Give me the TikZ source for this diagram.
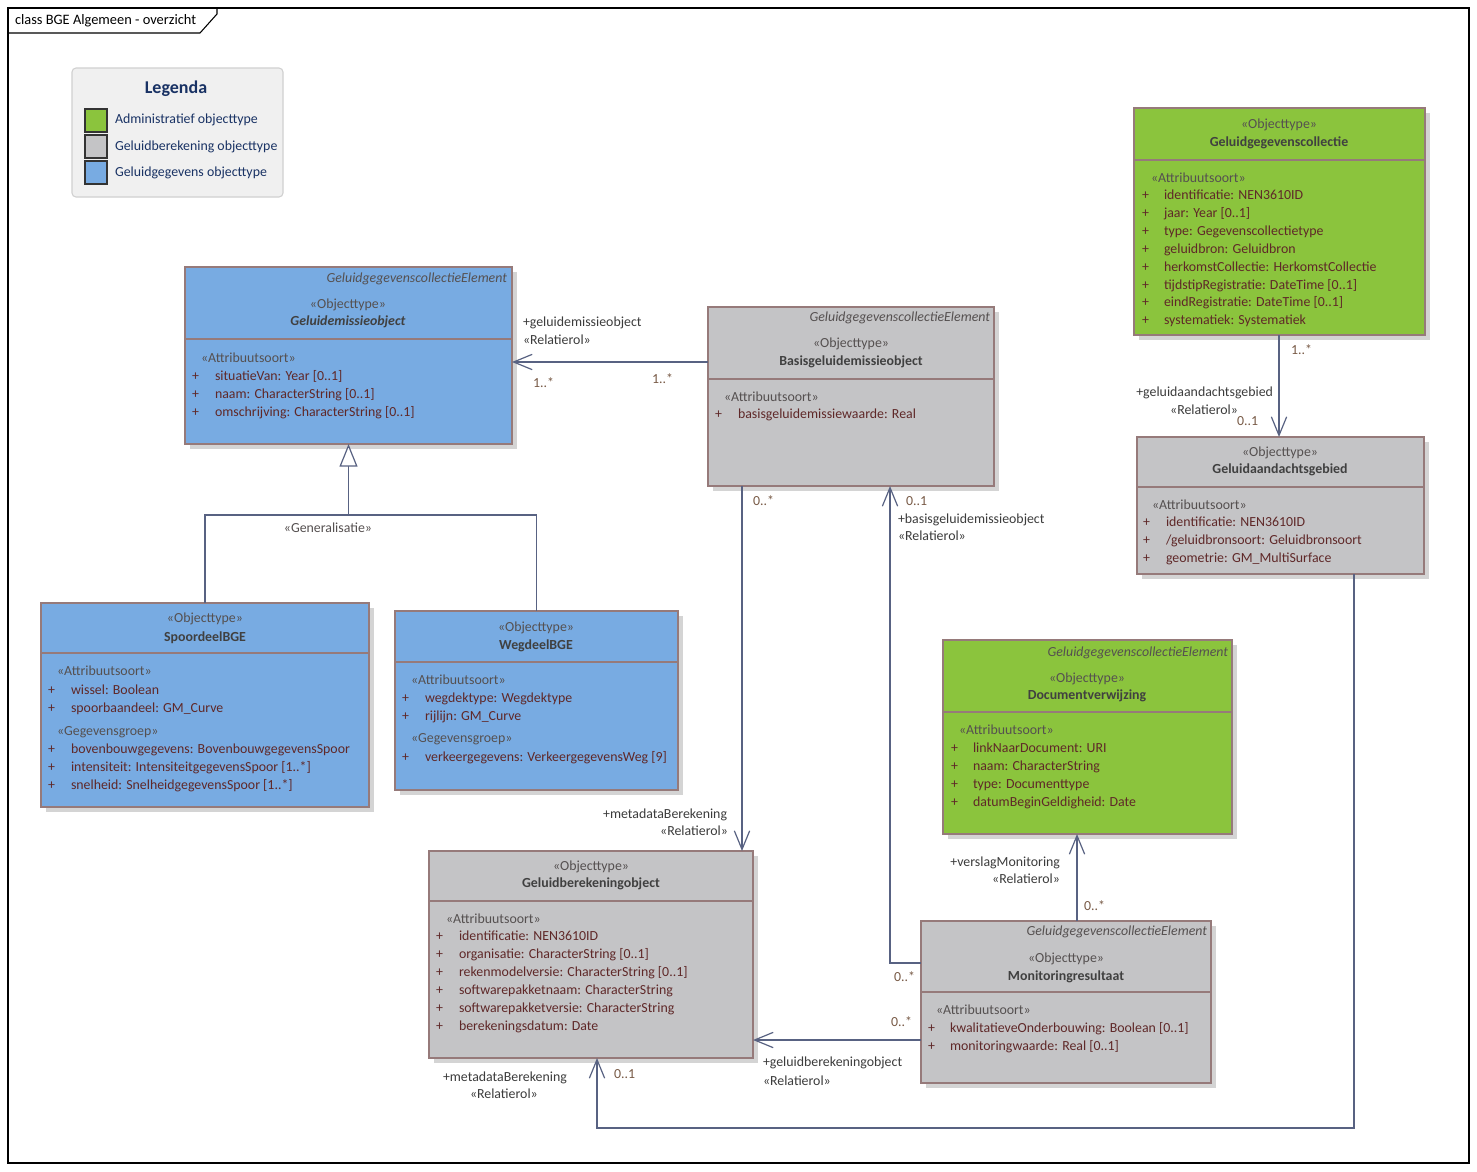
\documentclass[tikz,border=0pt]{standalone}
\usepackage{fontspec}
\setmainfont{Carlito}
\usetikzlibrary{arrows.meta,fit,shadows}
\definecolor{blueF}{RGB}{120,171,226}
\definecolor{greenF}{RGB}{139,196,61}
\definecolor{grayF}{RGB}{196,196,198}
\definecolor{boxB}{RGB}{150,122,122}
\definecolor{shadowC}{RGB}{212,212,212}
\definecolor{lineC}{RGB}{88,98,130}
\definecolor{stereoC}{RGB}{85,80,80}
\definecolor{nameC}{RGB}{64,64,64}
\definecolor{attrC}{RGB}{95,40,40}
\definecolor{multC}{RGB}{120,90,70}
\definecolor{roleC}{RGB}{60,60,60}
\definecolor{legF}{RGB}{240,240,240}
\definecolor{legB}{RGB}{208,208,208}
\definecolor{navyC}{RGB}{25,50,100}
\newcommand\dgfs{\fontsize{10.4}{12.5}\selectfont}
\newcommand\attrlist[5]{%
  \foreach \s [count=\i] in {#5} {
    \node[attrtxt] (#1p\i) at (#2,{#4+17.9*(\i-1)}) {+};
    \node[attrtxt] (#1a\i) at (#3,{#4+17.9*(\i-1)}) {\s};
  }}
\begin{document}
\begin{tikzpicture}[x=0.75pt,y=-0.75pt,
  cls/.style={draw=boxB, line width=1.1pt, inner sep=0pt, outer sep=0pt,
    drop shadow={shadow xshift=3.5pt, shadow yshift=-3.5pt, opacity=1, fill=shadowC}},
  thickcls/.style={cls, line width=2.2pt},
  div/.style={draw=boxB, line width=1.1pt},
  t/.style={inner sep=0pt, outer sep=0pt, font=\dgfs, text height=7.4pt, text depth=2.1pt},
  ster/.style={t, text=stereoC},
  nm/.style={t, text=nameC, font=\dgfs\bfseries},
  tag/.style={t, text=stereoC, font=\dgfs\itshape, anchor=east},
  sec/.style={t, text=stereoC, anchor=west},
  attrtxt/.style={t, text=attrC, anchor=west},
  role/.style={t, text=roleC},
  mul/.style={t, text=multC},
  assoc/.style={draw=lineC, line width=0.9pt, -{Straight Barb[length=14pt,width=11.5pt]}},
  gen/.style={draw=lineC, line width=0.9pt},
  genarrow/.style={gen, -{Triangle[open, length=17pt, width=13.5pt, fill=white]}},
  swatch/.style={draw=black!80, line width=0.8pt, inner sep=0pt},
  legtxt/.style={t, text=navyC, anchor=west}
]
\useasboundingbox (0,0) rectangle (1477,1171);
\fill[white] (0,0) rectangle (1477,1171);

% frame
\node[draw=black, line width=0.8pt, inner sep=0pt, fit={(8,8) (1469,1163)}] (frame) {};
\draw[black, line width=0.8pt] (frame.north west |- 0,33) -- (200,33) -- (217,14) -- (217,8);
\node[t, anchor=west, text=black, font=\fontsize{10.8}{13}\selectfont] (title) at (15,21) {class BGE Algemeen - overzicht};

% legend
\node[draw=legB, fill=legF, rounded corners=3pt, line width=0.8pt, inner sep=0pt, fit={(72,68) (283,197)}] (leg) {};
\node[t, text=navyC, font=\fontsize{13.5}{16}\selectfont\bfseries] (legtitle) at (176,90) {Legenda};
\node[swatch, fill=greenF, fit={(85,109) (107,132)}] (sw1) {};
\node[swatch, fill=grayF, fit={(85,135) (107,158)}] (sw2) {};
\node[swatch, fill=blueF, fit={(85,161) (107,184)}] (sw3) {};
\node[legtxt] (lt1) at (115,120) {Administratief objecttype};
\node[legtxt] (lt2) at (115,147) {Geluidberekening objecttype};
\node[legtxt] (lt3) at (115,173) {Geluidgegevens objecttype};

% Geluidemissieobject
\node[thickcls, fill=blueF, fit={(185,267) (512,444)}] (geo) {};
\draw[div, line width=2pt] (geo.west |- 0,339) -- (geo.east |- 0,339);
\node[tag] (geo-tag) at (507,279) {GeluidgegevenscollectieElement};
\node[ster] (geo-st) at (348,305) {«Objecttype»};
\node[nm, font=\dgfs\bfseries\itshape] (geo-nm) at (348,322) {Geluidemissieobject};
\node[sec] (geo-sec) at (201,359) {«Attribuutsoort»};
\attrlist{geo}{192}{215}{377}{{situatieVan: Year [0..1]},{naam: CharacterString [0..1]},{omschrijving: CharacterString [0..1]}}

% Basisgeluidemissieobject
\node[cls, fill=grayF, fit={(708,307) (994,486)}] (basis) {};
\draw[div] (basis.west |- 0,379) -- (basis.east |- 0,379);
\node[tag] (basis-tag) at (990,318) {GeluidgegevenscollectieElement};
\node[ster] (basis-st) at (851,344) {«Objecttype»};
\node[nm] (basis-nm) at (851,362) {Basisgeluidemissieobject};
\node[sec] (basis-sec) at (724,398) {«Attribuutsoort»};
\attrlist{basis}{715}{738}{415}{{basisgeluidemissiewaarde: Real}}

% Geluidgegevenscollectie
\node[cls, fill=greenF, fit={(1134,108) (1425,335)}] (gc) {};
\draw[div] (gc.west |- 0,160) -- (gc.east |- 0,160);
\node[ster] (gc-st) at (1279,125) {«Objecttype»};
\node[nm] (gc-nm) at (1279,143) {Geluidgegevenscollectie};
\node[sec] (gc-sec) at (1151,179) {«Attribuutsoort»};
\attrlist{gc}{1142}{1164}{196}{{identificatie: NEN3610ID},{jaar: Year [0..1]},{type: Gegevenscollectietype},{geluidbron: Geluidbron},{herkomstCollectie: HerkomstCollectie},{tijdstipRegistratie: DateTime [0..1]},{eindRegistratie: DateTime [0..1]},{systematiek: Systematiek}}

% Geluidaandachtsgebied
\node[cls, fill=grayF, fit={(1137,437) (1424,574)}] (aand) {};
\draw[div] (aand.west |- 0,487) -- (aand.east |- 0,487);
\node[ster] (aand-st) at (1280,453) {«Objecttype»};
\node[nm] (aand-nm) at (1280,470) {Geluidaandachtsgebied};
\node[sec] (aand-sec) at (1152,506) {«Attribuutsoort»};
\attrlist{aand}{1143}{1166}{523}{{identificatie: NEN3610ID},{/geluidbronsoort: Geluidbronsoort},{geometrie: GM\_MultiSurface}}

% SpoordeelBGE
\node[cls, fill=blueF, fit={(41,603) (369,807)}] (spoor) {};
\draw[div] (spoor.west |- 0,653) -- (spoor.east |- 0,653);
\node[ster] (spoor-st) at (205,619) {«Objecttype»};
\node[nm] (spoor-nm) at (205,638) {SpoordeelBGE};
\node[sec] (spoor-sec) at (57,672) {«Attribuutsoort»};
\attrlist{spoorA}{48}{71}{691}{{wissel: Boolean},{spoorbaandeel: GM\_Curve}}
\node[sec] (spoor-sec2) at (57,732) {«Gegevensgroep»};
\attrlist{spoorG}{48}{71}{750}{{bovenbouwgegevens: BovenbouwgegevensSpoor},{intensiteit: IntensiteitgegevensSpoor [1..*]},{snelheid: SnelheidgegevensSpoor [1..*]}}

% WegdeelBGE
\node[cls, fill=blueF, fit={(395,611) (678,790)}] (weg) {};
\draw[div] (weg.west |- 0,662) -- (weg.east |- 0,662);
\node[ster] (weg-st) at (536,628) {«Objecttype»};
\node[nm] (weg-nm) at (536,646) {WegdeelBGE};
\node[sec] (weg-sec) at (411,681) {«Attribuutsoort»};
\attrlist{wegA}{402}{425}{699}{{wegdektype: Wegdektype},{rijlijn: GM\_Curve}}
\node[sec] (weg-sec2) at (411,739) {«Gegevensgroep»};
\attrlist{wegG}{402}{425}{758}{{verkeergegevens: VerkeergegevensWeg [9]}}

% Documentverwijzing
\node[thickcls, fill=greenF, fit={(943,640) (1232,834)}] (doc) {};
\draw[div, line width=2pt] (doc.west |- 0,712) -- (doc.east |- 0,712);
\node[tag] (doc-tag) at (1228,653) {GeluidgegevenscollectieElement};
\node[ster] (doc-st) at (1087,679) {«Objecttype»};
\node[nm] (doc-nm) at (1087,696) {Documentverwijzing};
\node[sec] (doc-sec) at (959,731) {«Attribuutsoort»};
\attrlist{doc}{951}{973}{749}{{linkNaarDocument: URI},{naam: CharacterString},{type: Documenttype},{datumBeginGeldigheid: Date}}

% Geluidberekeningobject
\node[cls, fill=grayF, fit={(429,851) (753,1058)}] (gbo) {};
\draw[div] (gbo.west |- 0,901) -- (gbo.east |- 0,901);
\node[ster] (gbo-st) at (591,867) {«Objecttype»};
\node[nm] (gbo-nm) at (591,884) {Geluidberekeningobject};
\node[sec] (gbo-sec) at (446,920) {«Attribuutsoort»};
\attrlist{gbo}{436}{459}{937}{{identificatie: NEN3610ID},{organisatie: CharacterString [0..1]},{rekenmodelversie: CharacterString [0..1]},{softwarepakketnaam: CharacterString},{softwarepakketversie: CharacterString},{berekeningsdatum: Date}}

% Monitoringresultaat
\node[cls, fill=grayF, fit={(921,921) (1211,1083)}] (mon) {};
\draw[div] (mon.west |- 0,992) -- (mon.east |- 0,992);
\node[tag] (mon-tag) at (1207,932) {GeluidgegevenscollectieElement};
\node[ster] (mon-st) at (1066,959) {«Objecttype»};
\node[nm] (mon-nm) at (1066,977) {Monitoringresultaat};
\node[sec] (mon-sec) at (936,1011) {«Attribuutsoort»};
\attrlist{mon}{928}{950}{1029}{{kwalitatieveOnderbouwing: Boolean [0..1]},{monitoringwaarde: Real [0..1]}}

% connectors
\draw[assoc] (basis.west |- 0,362) -- (geo.east |- 0,362);
\node[role, anchor=west] (r1a) at (523,323) {+geluidemissieobject};
\node[role, anchor=west] (r1b) at (523,341) {«Relatierol»};
\node[mul, anchor=west] (m1a) at (533,384) {1..*};
\node[mul, anchor=west] (m1b) at (652,380) {1..*};

\draw[gen] (spoor.north) |- (weg.north |- 0,515) -- (weg.north);
\draw[genarrow] (geo.south |- 0,515) -- (geo.south);
\node[ster] (genlbl) at (328,529) {«Generalisatie»};

\draw[assoc] (basis.south -| 742,0) -- (gbo.north -| 742,0);
\node[mul, anchor=west] (m3a) at (753,502) {0..*};
\node[role, anchor=east] (r3a) at (727,815) {+metadataBerekening};
\node[role, anchor=east] (r3b) at (728,832) {«Relatierol»};

\draw[assoc] (mon.west |- 0,963) -| (basis.south -| 890,0);
\node[mul, anchor=west] (m4a) at (906,502) {0..1};
\node[role, anchor=west] (r4a) at (898,520) {+basisgeluidemissieobject};
\node[role, anchor=west] (r4b) at (898,537) {«Relatierol»};
\node[mul, anchor=east] (m4b) at (915,978) {0..*};

\draw[assoc] (mon.north -| 1077,0) -- (doc.south -| 1077,0);
\node[role, anchor=east] (r5a) at (1060,863) {+verslagMonitoring};
\node[role, anchor=east] (r5b) at (1060,880) {«Relatierol»};
\node[mul, anchor=west] (m5a) at (1084,907) {0..*};

\draw[assoc] (mon.west |- 0,1040) -- (gbo.east |- 0,1040);
\node[mul, anchor=east] (m6a) at (912,1023) {0..*};
\node[role, anchor=west] (r6a) at (763,1063) {+geluidberekeningobject};
\node[role, anchor=west] (r6b) at (763,1082) {«Relatierol»};

\coordinate (c7) at (597,1128);
\draw[assoc] (aand.south -| 1354,0) |- (c7) -- (gbo.south -| 597,0);
\node[mul, anchor=west] (m7a) at (614,1075) {0..1};
\node[role, anchor=west] (r7a) at (443,1078) {+metadataBerekening};
\node[role, anchor=west] (r7b) at (470,1095) {«Relatierol»};

\draw[assoc] (gc.south -| 1279,0) -- (aand.north -| 1279,0);
\node[mul, anchor=west] (m8a) at (1291,351) {1..*};
\node[role, anchor=east] (r8a) at (1273,393) {+geluidaandachtsgebied};
\node[role, anchor=east] (r8b) at (1238,411) {«Relatierol»};
\node[mul, anchor=west] (m8b) at (1237,422) {0..1};
\end{tikzpicture}
\end{document}
